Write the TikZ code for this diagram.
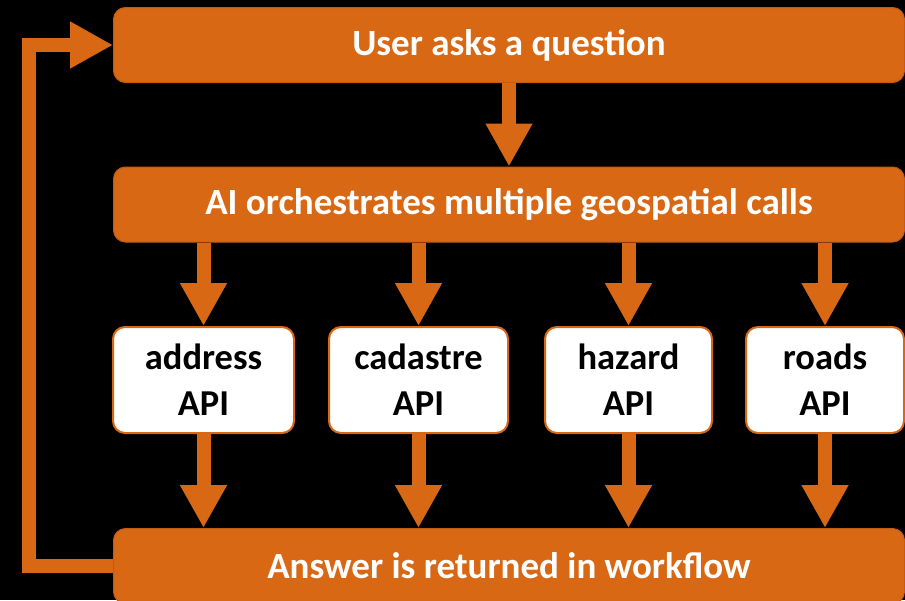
\documentclass[tikz,border=0pt]{standalone}
\usepackage{fontspec}
\setmainfont{Carlito}
\usetikzlibrary{arrows.meta}
\definecolor{orfill}{RGB}{217,104,21}
\definecolor{ordraw}{RGB}{197,90,17}
\tikzset{
  bigbox/.style={rectangle, rounded corners=12pt, fill=orfill, draw=ordraw, line width=1pt,
    minimum width=791pt, minimum height=75pt, inner sep=0pt, text=white,
    font=\fontsize{37}{44}\selectfont\bfseries},
  apibox/.style={rectangle, rounded corners=12pt, fill=white, draw=orfill, line width=2pt,
    minimum height=106pt, inner sep=0pt, text=black, align=center,
    font=\fontsize{36.5}{46}\selectfont\bfseries},
  blockarrow/.style={draw=orfill, line width=14pt, line cap=butt, line join=miter,
    -{Triangle[width=44pt,length=43pt]}, color=orfill},
}
\begin{document}
\begin{tikzpicture}[x=1pt,y=-1pt]
\fill[black] (0,0) rectangle (905,600);
\useasboundingbox (0,0) rectangle (905,600);
\node[bigbox] (user) at (509,45) {User asks a question};
\node[bigbox] (orch) at (509,204.5) {AI orchestrates multiple geospatial calls};
\node[bigbox] (ans) at (509,566) {Answer is returned in workflow};
\node[apibox, minimum width=181pt] (address) at (203.5,380) {address\\API};
\node[apibox, minimum width=179pt] (cadastre) at (418.5,380) {cadastre\\API};
\node[apibox, minimum width=167pt] (hazard) at (628.5,380) {hazard\\API};
\node[apibox, minimum width=158pt] (roads) at (825,380) {roads\\API};
\draw[blockarrow] (user.south) -- (orch.north);
\foreach \n in {address,cadastre,hazard,roads}{
  \draw[blockarrow] (\n.north |- orch.south) -- (\n.north);
  \draw[blockarrow] (\n.south) -- (\n.south |- ans.north);
}
\draw[blockarrow] (ans.west) -- ++(-84,0) |- (user.west);
\end{tikzpicture}
\end{document}
